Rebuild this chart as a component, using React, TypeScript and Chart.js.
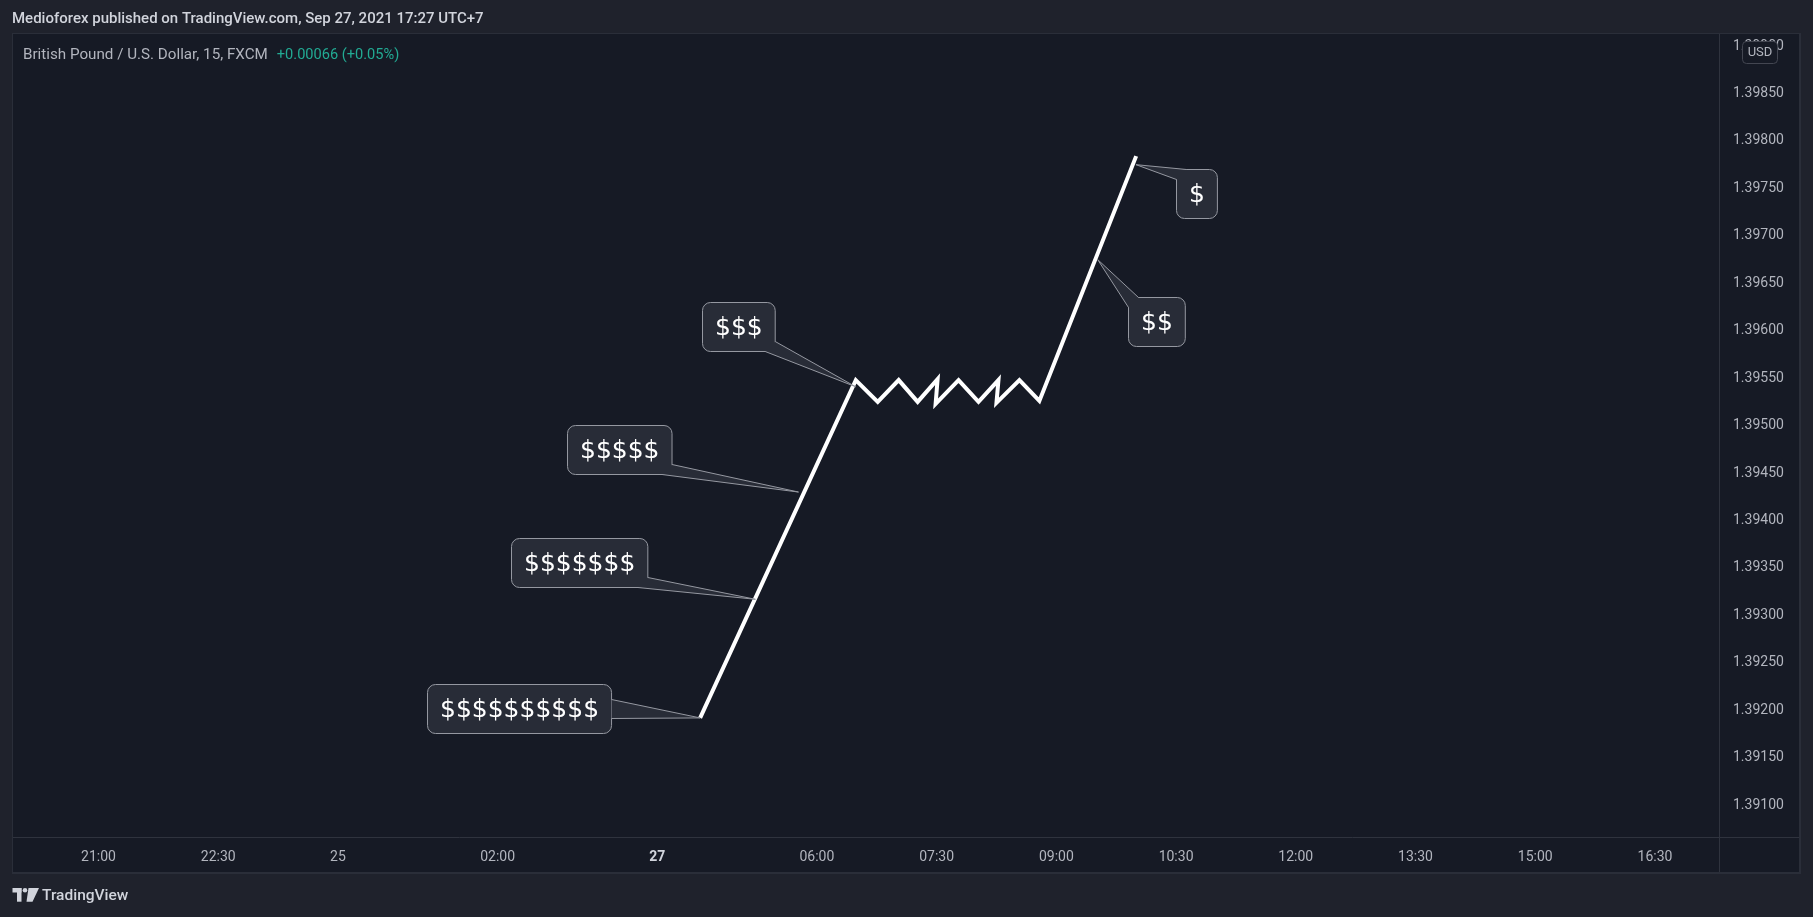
import React, { useEffect, useRef } from 'react';
import { Chart, registerables } from 'chart.js';

Chart.register(...registerables);

// ---- data ----
const LINE_X = [30.15, 37.95, 39.05, 40.1, 41.05, 42.05, 41.95, 43.1, 44.1, 45.1, 45.0, 46.15, 47.15, 52.0];
const LINE_Y = [1.39192, 1.39548, 1.39525, 1.39548, 1.39525, 1.39549, 1.39523, 1.39548, 1.39525, 1.39548, 1.39524, 1.39548, 1.39526, 1.39784];

const CALLOUT_TEXT = ['$$$$$$$$$$', '$$$$$$$', '$$$$$', '$$$', '$$', '$'];
const CALLOUT_X = [30.15, 32.92, 35.08, 37.94, 50.07, 51.99];
const CALLOUT_Y = [1.39192, 1.39317, 1.3943, 1.39541, 1.39675, 1.39775];

const X_TICK_POS = [0, 6, 12, 20, 28, 36, 42, 48, 54, 60, 66, 72, 78];
const X_TICK_LABELS = ['21:00', '22:30', '25', '02:00', '27', '06:00', '07:30', '09:00', '10:30', '12:00', '13:30', '15:00', '16:30'];
const Y_TICKS = [1.391, 1.3915, 1.392, 1.3925, 1.393, 1.3935, 1.394, 1.3945, 1.395, 1.3955, 1.396, 1.3965, 1.397, 1.3975, 1.398, 1.3985, 1.399];

const HEADER = 'Medioforex published on TradingView.com, Sep 27, 2021 17:27 UTC+7';
const SYMBOL = 'British Pound / U.S. Dollar, 15, FXCM';
const CHANGE = '+0.00066 (+0.05%)';
const CURRENCY = 'USD';
const BRAND = 'TradingView';

const X_MIN = -4.285;
const X_MAX = 81.208;
const Y_MIN = 1.390665;
const Y_MAX = 1.399127;

// ---- layout / styles ----
const W = 1813;
const H = 917;
const OUTER_BG = '#1f222c';
const PANEL_BG = '#161a25';
const PANEL_BORDER = '#2a2e39';
const SEP = '#2f333e';
const TEXT = '#b2b5be';
const TEXT_BRIGHT = '#d1d4dc';
const GREEN = '#22ab94';
const UI_FONT = 'Roboto, "Liberation Sans", sans-serif';

const CALLOUT_LAYOUT = [
  { cx: -180.75, cy: -9.25, tail: 'r', t1: 15, t2: 34 },
  { cx: -176.7, cy: -36.3, tail: 'br' },
  { cx: -179.75, cy: -42.35, tail: 'br' },
  { cx: -117.6, cy: -60, tail: 'br' },
  { cx: 58.95, cy: 62.15, tail: 'tl' },
  { cx: 60.65, cy: 29, tail: 'tl' },
];

function drawCallout(ctx: CanvasRenderingContext2D, ax: number, ay: number, text: string, lay: any) {
  ctx.save();
  ctx.font = '25px "DejaVu Sans"';
  const tw = ctx.measureText(text).width;
  const w = tw + 25;
  const h = 49;
  const r = 8;
  const cx = ax + lay.cx;
  const cy = ay + lay.cy;
  const left = Math.round(cx - w / 2) + 0.5;
  const top = Math.round(cy - h / 2) + 0.5;
  const right = left + w;
  const bottom = top + h;
  let p1: number[];
  let p2: number[];
  if (lay.tail === 'br') {
    p1 = [right, bottom - 10];
    p2 = [right - 10, bottom];
  } else if (lay.tail === 'tl') {
    p1 = [left + 10, top];
    p2 = [left, top + 10];
  } else {
    p1 = [right, top + lay.t1];
    p2 = [right, top + lay.t2];
  }
  ctx.fillStyle = '#282c37';
  ctx.strokeStyle = '#9598a1';
  ctx.lineWidth = 1;
  ctx.beginPath();
  ctx.roundRect(left, top, w, h, r);
  ctx.fill();
  ctx.stroke();
  ctx.beginPath();
  ctx.moveTo(p1[0], p1[1]);
  ctx.lineTo(ax, ay);
  ctx.lineTo(p2[0], p2[1]);
  ctx.closePath();
  ctx.fill();
  ctx.beginPath();
  ctx.moveTo(p1[0], p1[1]);
  ctx.lineTo(ax, ay);
  ctx.lineTo(p2[0], p2[1]);
  ctx.stroke();
  ctx.fillStyle = '#ffffff';
  ctx.textAlign = 'center';
  ctx.textBaseline = 'middle';
  ctx.fillText(text, left + w / 2, top + h / 2 + 1);
  ctx.restore();
}

const framePlugin = {
  id: 'tvFrame',
  beforeDraw(chart: any) {
    const ctx: CanvasRenderingContext2D = chart.ctx;
    const ca = chart.chartArea;
    ctx.save();
    ctx.fillStyle = OUTER_BG;
    ctx.fillRect(0, 0, W, H);
    // panel
    ctx.fillStyle = PANEL_BORDER;
    ctx.fillRect(12, 33, 1789, 841);
    ctx.fillStyle = PANEL_BG;
    ctx.fillRect(13, 34, 1786, 838);
    // separators
    ctx.strokeStyle = SEP;
    ctx.lineWidth = 1;
    ctx.beginPath();
    ctx.moveTo(Math.round(ca.right) + 0.5, 34);
    ctx.lineTo(Math.round(ca.right) + 0.5, 872);
    ctx.moveTo(13, Math.round(ca.bottom) + 0.5);
    ctx.lineTo(1799, Math.round(ca.bottom) + 0.5);
    ctx.stroke();
    // header
    ctx.textBaseline = 'middle';
    ctx.textAlign = 'left';
    ctx.fillStyle = TEXT_BRIGHT;
    ctx.font = `500 15px ${UI_FONT}`;
    ctx.fillText(HEADER, 12, 19);
    // symbol line
    ctx.fillStyle = TEXT;
    ctx.font = `15.2px ${UI_FONT}`;
    ctx.fillText(SYMBOL, 23, 55);
    const sw = ctx.measureText(SYMBOL).width;
    ctx.fillStyle = GREEN;
    ctx.font = `14.6px ${UI_FONT}`;
    ctx.fillText(CHANGE, 23 + sw + 9, 55);
    // brand logo
    ctx.fillStyle = TEXT_BRIGHT;
    ctx.fillRect(12.5, 888, 9, 4.5);
    ctx.fillRect(17, 888, 4.5, 13.7);
    ctx.beginPath();
    ctx.arc(25, 890.3, 2.3, 0, Math.PI * 2);
    ctx.fill();
    ctx.beginPath();
    ctx.moveTo(28.5, 888);
    ctx.lineTo(39, 888);
    ctx.lineTo(32.5, 901.7);
    ctx.lineTo(26.5, 901.7);
    ctx.closePath();
    ctx.fill();
    ctx.font = `500 15.5px ${UI_FONT}`;
    ctx.fillText(BRAND, 42, 896);
    ctx.restore();
  },
  afterDatasetsDraw(chart: any) {
    const ctx: CanvasRenderingContext2D = chart.ctx;
    const xs = chart.scales.x;
    const ys = chart.scales.y;
    for (let i = 0; i < CALLOUT_TEXT.length; i++) {
      const ax = xs.getPixelForValue(CALLOUT_X[i]);
      const ay = ys.getPixelForValue(CALLOUT_Y[i]);
      drawCallout(ctx, ax, ay, CALLOUT_TEXT[i], CALLOUT_LAYOUT[i]);
    }
  },
  afterDraw(chart: any) {
    const ctx: CanvasRenderingContext2D = chart.ctx;
    ctx.save();
    ctx.fillStyle = PANEL_BG;
    ctx.strokeStyle = '#434651';
    ctx.lineWidth = 1;
    ctx.beginPath();
    ctx.roundRect(1742.5, 41.5, 35, 22, 4);
    ctx.fill();
    ctx.stroke();
    ctx.fillStyle = TEXT;
    ctx.font = `13px ${UI_FONT}`;
    ctx.textAlign = 'center';
    ctx.textBaseline = 'middle';
    ctx.fillText(CURRENCY, 1760, 53);
    ctx.restore();
  },
};

export default function App() {
  const ref = useRef<HTMLCanvasElement>(null);
  useEffect(() => {
    document.body.style.margin = '0';
    document.body.style.overflow = 'hidden';
    document.body.style.background = OUTER_BG;
    const points = LINE_X.map((x, i) => ({ x, y: LINE_Y[i] }));
    const chart = new Chart(ref.current as HTMLCanvasElement, {
      type: 'line',
      data: {
        datasets: [
          {
            data: points,
            borderColor: '#ffffff',
            borderWidth: 4,
            pointRadius: 0,
            tension: 0,
            borderJoinStyle: 'miter',
            fill: false,
          },
        ],
      },
      options: {
        responsive: false,
        animation: false,
        devicePixelRatio: 1,
        events: [],
        layout: { padding: { left: 13, top: 34, right: 14, bottom: 45 } },
        plugins: { legend: { display: false }, tooltip: { enabled: false } },
        scales: {
          x: {
            type: 'linear',
            min: X_MIN,
            max: X_MAX,
            grid: { display: false, drawTicks: false },
            border: { display: false },
            afterBuildTicks: (s: any) => {
              s.ticks = X_TICK_POS.map((v) => ({ value: v }));
            },
            afterFit: (s: any) => {
              s.height = 35;
            },
            ticks: {
              autoSkip: false,
              maxRotation: 0,
              minRotation: 0,
              padding: 12,
              callback: (v: any) => {
                const i = X_TICK_POS.indexOf(Number(v));
                return i >= 0 ? X_TICK_LABELS[i] : '';
              },
              color: (c: any) => (c.tick && c.tick.label === '27' ? TEXT_BRIGHT : TEXT),
              font: (c: any) => ({
                family: UI_FONT,
                size: 14,
                weight: c.tick && c.tick.label === '27' ? 'bold' : 'normal',
              }),
            },
          },
          y: {
            type: 'linear',
            position: 'right',
            min: Y_MIN,
            max: Y_MAX,
            grid: { display: false, drawTicks: false },
            border: { display: false },
            afterBuildTicks: (s: any) => {
              s.ticks = Y_TICKS.map((v) => ({ value: v }));
            },
            afterFit: (s: any) => {
              s.width = 80;
            },
            ticks: {
              autoSkip: false,
              padding: 14,
              callback: (v: any) => Number(v).toFixed(5),
              color: TEXT,
              font: { family: UI_FONT, size: 14 },
            },
          },
        },
      },
      plugins: [framePlugin],
    } as any);
    return () => chart.destroy();
  }, []);
  return (
    <div style={{ position: 'absolute', left: 0, top: 0, width: W, height: H }}>
      <canvas ref={ref} width={W} height={H} style={{ display: 'block', width: W, height: H }} />
    </div>
  );
}
